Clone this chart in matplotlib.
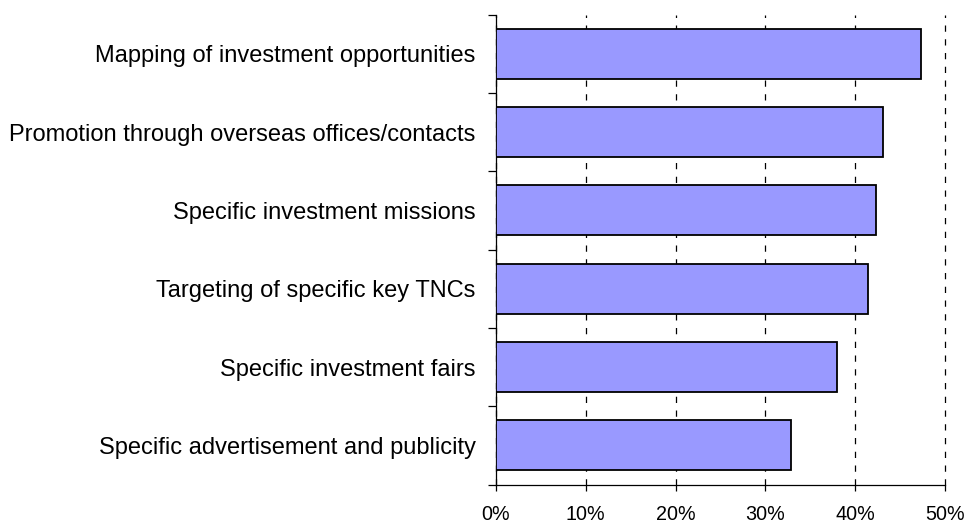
import matplotlib.pyplot as plt
import numpy as np
from matplotlib.ticker import FixedLocator, PercentFormatter

# Investment promotion techniques, share of respondents
tecnicas = [
    'Mapping of investment opportunities',
    'Promotion through overseas offices/contacts',
    'Specific investment missions',
    'Targeting of specific key TNCs',
    'Specific investment fairs',
    'Specific advertisement and publicity',
]
porcentajes = [47.3, 43.1, 42.3, 41.5, 38.0, 32.9]
ticks_x = [0, 10, 20, 30, 40, 50]

plt.rcParams['font.family'] = ['Liberation Sans', 'DejaVu Sans']

fig = plt.figure(figsize=(9.65, 5.23), dpi=100)
ax = fig.add_axes([0.514, 0.0736, 0.465, 0.8986])

n = len(tecnicas)
pos = np.arange(n)[::-1]                                   # first category on top
ax.barh(pos, porcentajes, height=0.64, color='#9999FF',
        edgecolor='black', linewidth=1.3, zorder=3)

ax.set_xlim(0, 50)
ax.set_ylim(-0.5, n - 0.5)

# grid lines dashed, only vertical
ax.set_xticks(ticks_x)
ax.xaxis.set_major_formatter(PercentFormatter(decimals=0))
ax.grid(axis='x', color='black', linestyle=(0, (5, 6)), linewidth=0.9, zorder=0)
for linea in ax.get_xgridlines():
    linea.set_clip_on(False)                               # so the 50% line is not cut in half

# category labels centered, small ticks on the boundaries
ax.set_yticks(pos)
ax.set_yticklabels(tecnicas)
ax.yaxis.set_minor_locator(FixedLocator(np.arange(n + 1) - 0.5))
ax.tick_params(axis='y', which='major', length=0, pad=14.5, labelsize=17)
ax.tick_params(axis='y', which='minor', length=5.8, width=0.9, direction='out')
ax.tick_params(axis='x', which='major', length=4.3, width=0.9, direction='out',
               pad=10.5, labelsize=14.2)

for lado in ['top', 'right']:
    ax.spines[lado].set_visible(False)
for lado in ['left', 'bottom']:
    ax.spines[lado].set_linewidth(0.9)

fig.savefig('out.png', dpi=100)
